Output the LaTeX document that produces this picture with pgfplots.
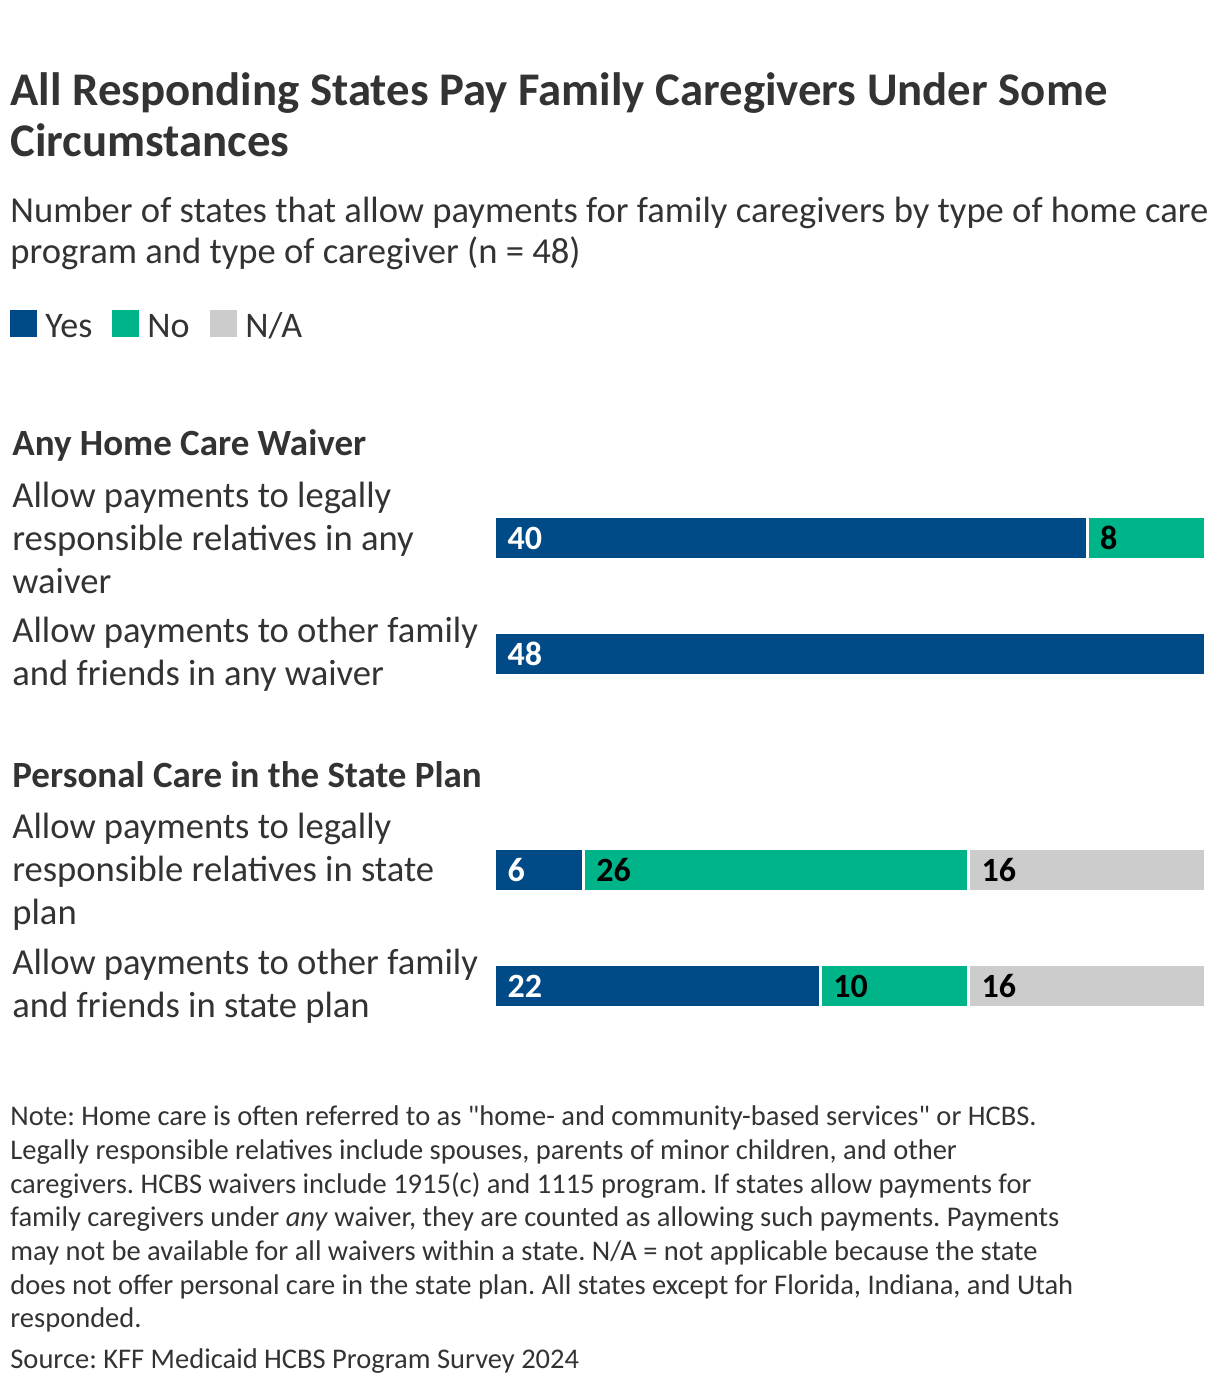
\documentclass[border=0pt]{standalone}
\usepackage{pgfplots}
\pgfplotsset{compat=1.18}
\usepackage{fontspec}
\setmainfont{Carlito}[Ligatures=TeXOff]
\frenchspacing
\definecolor{kyes}{HTML}{004A87}
\definecolor{kno}{HTML}{00B48A}
\definecolor{kna}{HTML}{CCCCCC}
\definecolor{ktxt}{HTML}{333333}
\newcommand{\fs}[1]{\fontsize{#1}{#1}\selectfont}
\begin{document}
\begin{tikzpicture}[x=0.5pt,y=0.5pt]
\path[fill=white] (0,0) rectangle (1220,-1390);
% title
\node[anchor=base west,inner sep=0,text=ktxt,font=\fs{23.4pt}\bfseries] at (10,-106) {All Responding States Pay Family Caregivers Under Some};
\node[anchor=base west,inner sep=0,text=ktxt,font=\fs{23.4pt}\bfseries] at (10,-157) {Circumstances};
% subtitle
\node[anchor=base west,inner sep=0,text=ktxt,font=\fs{18.3pt}] at (10,-223) {Number of states that allow payments for family caregivers by type of home care};
\node[anchor=base west,inner sep=0,text=ktxt,font=\fs{18.3pt}] at (10,-264) {program and type of caregiver (n = 48)};
% legend
\fill[kyes] (10,-310) rectangle (37,-337);
\node[anchor=base west,inner sep=0,text=ktxt,font=\fs{18pt}] at (45,-337) {Yes};
\fill[kno] (112,-310) rectangle (139,-337);
\node[anchor=base west,inner sep=0,text=ktxt,font=\fs{18pt}] at (147,-337) {No};
\fill[kna] (210,-310) rectangle (237,-337);
\node[anchor=base west,inner sep=0,text=ktxt,font=\fs{18pt}] at (245,-337) {N/A};
% group headings
\node[anchor=base west,inner sep=0,text=ktxt,font=\fs{18.5pt}\bfseries] at (12,-455) {Any Home Care Waiver};
\node[anchor=base west,inner sep=0,text=ktxt,font=\fs{18.5pt}\bfseries] at (12,-787) {Personal Care in the State Plan};
% row labels
\begin{scope}[every node/.style={anchor=base west,inner sep=0,text=ktxt,font=\fs{18.3pt}}]
\node at (12,-507) {Allow payments to legally};
\node at (12,-550) {responsible relatives in any};
\node at (12,-593) {waiver};
\node at (12,-642) {Allow payments to other family};
\node at (12,-685) {and friends in any waiver};
\node at (12,-838) {Allow payments to legally};
\node at (12,-881) {responsible relatives in state};
\node at (12,-924) {plan};
\node at (12,-974) {Allow payments to other family};
\node at (12,-1017) {and friends in state plan};
\end{scope}
% bars
\begin{axis}[
  at={(247.25pt,-695pt)}, anchor=south west,
  scale only axis, width=355.5pt, height=695pt,
  xmin=0, xmax=48, ymin=-1390, ymax=0,
  hide axis, clip=false,
  xbar stacked, bar width=21.5pt,
]
\addplot[fill=kyes, draw=white, line width=1.5pt] coordinates {(40,-538) (48,-654) (6,-870) (22,-986)};
\addplot[fill=kno, draw=white, line width=1.5pt] coordinates {(8,-538) (0,-654) (26,-870) (10,-986)};
\addplot[fill=kna, draw=white, line width=1.5pt] coordinates {(0,-538) (0,-654) (16,-870) (16,-986)};
\end{axis}
% bar labels
\begin{axis}[
  at={(247.25pt,-695pt)}, anchor=south west,
  scale only axis, width=355.5pt, height=695pt,
  xmin=0, xmax=48, ymin=-1390, ymax=0,
  hide axis, clip=false,
]
\addplot[draw=none, mark=none, nodes near coords, point meta=explicit symbolic,
  nodes near coords style={anchor=west, xshift=3pt, text=white, font=\fs{17pt}\bfseries}]
  coordinates {(0,-538)[40] (0,-654)[48] (0,-870)[6] (0,-986)[22]};
\addplot[draw=none, mark=none, nodes near coords, point meta=explicit symbolic,
  nodes near coords style={anchor=west, xshift=3pt, text=black, font=\fs{17pt}\bfseries}]
  coordinates {(40,-538)[8] (6,-870)[26] (32,-870)[16] (22,-986)[10] (32,-986)[16]};
\end{axis}
% note
\begin{scope}[every node/.style={anchor=base west,inner sep=0,text=ktxt,font=\fs{14.25pt}}]
\node at (10,-1125) {Note: Home care is often referred to as "home- and community-based services" or HCBS.};
\node at (10,-1159) {Legally responsible relatives include spouses, parents of minor children, and other};
\node at (10,-1193) {caregivers. HCBS waivers include 1915(c) and 1115 program. If states allow payments for};
\node at (10,-1226) {family caregivers under \textit{any} waiver, they are counted as allowing such payments. Payments};
\node at (10,-1260) {may not be available for all waivers within a state. N/A = not applicable because the state};
\node at (10,-1294) {does not offer personal care in the state plan. All states except for Florida, Indiana, and Utah};
\node at (10,-1327) {responded.};
\node at (10,-1368) {Source: KFF Medicaid HCBS Program Survey 2024};
\end{scope}
\end{tikzpicture}
\end{document}
